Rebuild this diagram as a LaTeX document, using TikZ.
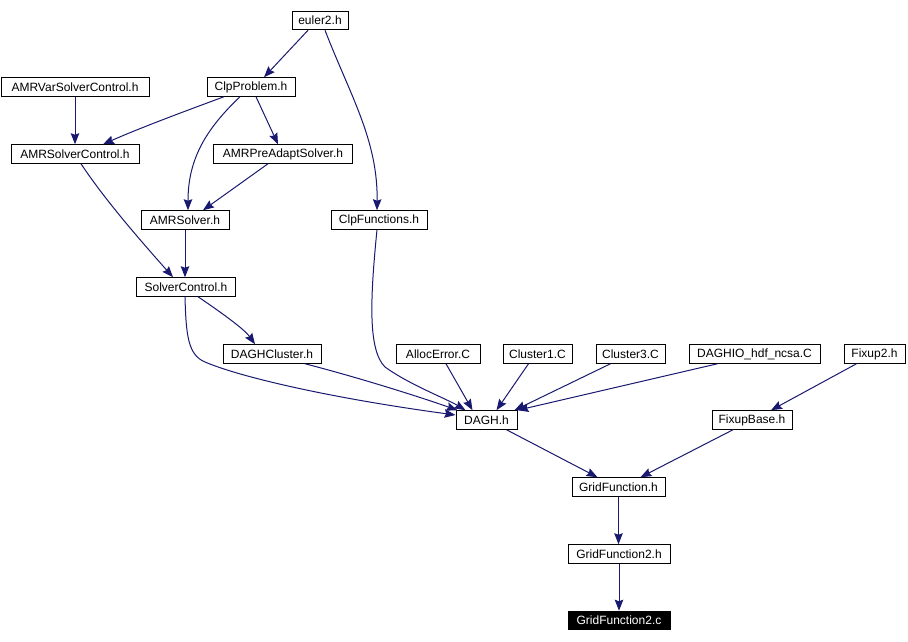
\documentclass[tikz,border=0pt]{standalone}
\usepackage{fontspec}
\setmainfont{Liberation Sans}
\usetikzlibrary{arrows.meta}
\definecolor{edgecol}{HTML}{191970}
\tikzset{
  filebox/.style={draw, line width=1pt, inner sep=0pt, minimum height=18.5pt, font=\fontsize{12}{13}\selectfont},
  dep/.style={draw=edgecol, line width=1pt, -{Stealth[length=11pt,width=8.5pt,inset=1.5pt]}, edgecol},
  current/.style={filebox, fill=black, text=white}
}
\begin{document}
\begin{tikzpicture}[x=1pt,y=-1pt]
\useasboundingbox (0,0) rectangle (908,642);
\fill[white] (0,0) rectangle (908,642);
% nodes
\node[filebox, minimum width=56pt] (e2) at (320,20.5) {euler2.h};
\node[filebox, minimum width=88pt] (cp) at (251,87) {ClpProblem.h};
\node[filebox, minimum width=148pt] (avsc) at (75,87) {AMRVarSolverControl.h};
\node[filebox, minimum width=128pt] (asc) at (75,154) {AMRSolverControl.h};
\node[filebox, minimum width=139pt] (apas) at (283,154) {AMRPreAdaptSolver.h};
\node[filebox, minimum width=88pt] (as) at (185,220) {AMRSolver.h};
\node[filebox, minimum width=96pt] (cf) at (379,220) {ClpFunctions.h};
\node[filebox, minimum width=99pt] (sc) at (186,287) {SolverControl.h};
\node[filebox, minimum width=98pt] (dc) at (272,354) {DAGHCluster.h};
\node[filebox, minimum width=84pt] (ae) at (438,354) {AllocError.C};
\node[filebox, minimum width=69pt] (c1) at (537.5,354) {Cluster1.C};
\node[filebox, minimum width=69pt] (c3) at (630.5,354) {Cluster3.C};
\node[filebox, minimum width=131pt] (dio) at (754.5,354) {DAGHIO\_hdf\_ncsa.C};
\node[filebox, minimum width=61pt] (fx2) at (874.5,354) {Fixup2.h};
\node[filebox, minimum width=61pt] (dagh) at (486.5,420) {DAGH.h};
\node[filebox, minimum width=80pt] (fb) at (752,420) {FixupBase.h};
\node[filebox, minimum width=93pt] (gf) at (618.5,487) {GridFunction.h};
\node[filebox, minimum width=102pt] (gf2h) at (619,554) {GridFunction2.h};
\node[current, minimum width=102pt] (gf2c) at (619,620.5) {GridFunction2.c};
% edges
\draw[dep] ([xshift=-12pt]e2.south) -- ([xshift=13pt]cp.north);
\draw[dep] ([xshift=5pt]e2.south) .. controls (350,95) and (378,140) .. ([xshift=-2pt]cf.north);
\draw[dep] (avsc) -- (asc);
\draw[dep] ([xshift=-27pt]cp.south) .. controls (180,113) and (140,128) .. ([xshift=28pt]asc.north);
\draw[dep] ([xshift=-11pt]cp.south) .. controls (205,130) and (188,160) .. ([xshift=3pt]as.north);
\draw[dep] ([xshift=5pt]cp.south) -- ([xshift=-5pt]apas.north);
\draw[dep] ([xshift=-15pt]apas.south) -- ([xshift=18pt]as.north);
\draw[dep] ([xshift=6pt]asc.south) .. controls (105,200) and (140,240) .. ([xshift=-13pt]sc.north);
\draw[dep] (as.south) -- (as.south |- sc.north);
\draw[dep] ([xshift=12pt]sc.south) .. controls (225,315) and (245,330) .. ([xshift=-17pt]dc.north);
\draw[dep] ([xshift=-1pt]sc.south) .. controls (186,335) and (188,355) .. (205,362)
   .. controls (240,377) and (330,398) .. ([yshift=5pt]dagh.west);
\draw[dep] ([xshift=33pt]dc.south) .. controls (360,378) and (420,397) .. ([xshift=2pt]dagh.north west);
\draw[dep] ([xshift=-2pt]cf.south) .. controls (370,300) and (368,350) .. (385,367)
   .. controls (410,385) and (445,398) .. ([xshift=-21pt]dagh.north);
\draw[dep] ([xshift=8pt]ae.south) -- ([xshift=-14pt]dagh.north);
\draw[dep] ([xshift=-9pt]c1.south) -- ([xshift=10pt]dagh.north);
\draw[dep] ([xshift=-20pt]c3.south) -- ([xshift=28pt]dagh.north);
\draw[dep] ([xshift=-37pt]dio.south) -- (dagh.north east);
\draw[dep] ([xshift=-18pt]fx2.south) -- ([xshift=19pt]fb.north);
\draw[dep] ([xshift=20pt]dagh.south) -- ([xshift=-21pt]gf.north);
\draw[dep] ([xshift=-19pt]fb.south) -- ([xshift=22pt]gf.north);
\draw[dep] (gf.south) -- (gf.south |- gf2h.north);
\draw[dep] (gf2h) -- (gf2c);
\end{tikzpicture}
\end{document}
